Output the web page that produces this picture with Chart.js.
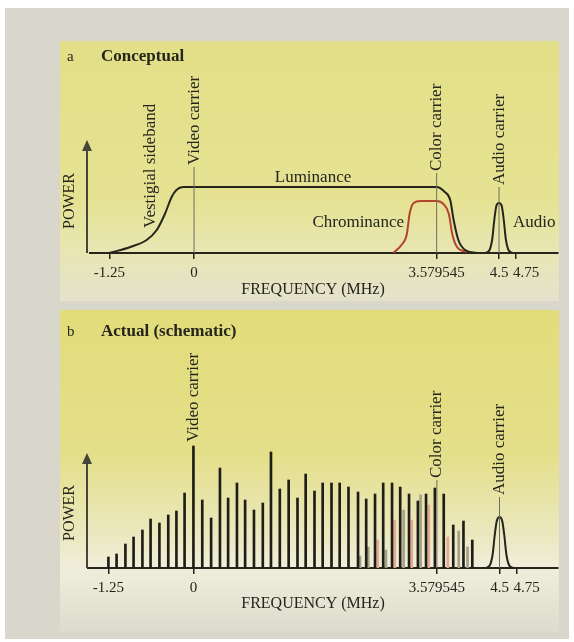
<!DOCTYPE html>
<html>
<head>
<meta charset="utf-8">
<script src="https://cdn.jsdelivr.net/npm/chart.js@4.4.1/dist/chart.umd.min.js"></script>
<style>
  html, body { margin: 0; padding: 0; background: #ffffff; }
  #page { position: relative; width: 574px; height: 642px; overflow: hidden; }
  #paper { position: absolute; left: 5px; top: 8px; width: 564px; height: 631px; background: #d9d7cb; }
  .panel { position: absolute; left: 60px; width: 499px; }
  #panelA { top: 41px; height: 260px;
    background: linear-gradient(to bottom, #e3df88 0%, #e5e292 60%, #e8e6b4 82%, #e4e2cc 100%); }
  #panelB { top: 310px; height: 322px;
    background: linear-gradient(to bottom, #e2dc7a 0%, #e4df8a 45%, #ebe8c0 70%, #f0eedb 80%, #e6e4d4 90%, #dddbcd 100%); }
  canvas { position: absolute; left: 0; top: 0; }
  #wrapA { position: absolute; left: 0; top: 0; width: 574px; height: 300px; }
  #wrapB { position: absolute; left: 0; top: 300px; width: 574px; height: 342px; }
</style>
</head>
<body>
<div id="page">
  <div id="paper"></div>
  <div class="panel" id="panelA"></div>
  <div class="panel" id="panelB"></div>
  <div id="wrapA"><canvas id="spectrumA" width="574" height="300"></canvas></div>
  <div id="wrapB"><canvas id="spectrumB" width="574" height="342"></canvas></div>
</div>
<script>
// x axis ticks (MHz)
const tickValues = [-1.25, 0, 3.579545, 4.5, 4.75];
const tickLabels = ["-1.25", "0", "3.579545", "4.5", "4.75"];

// carriers
const carrierFreqs = [0, 3.579545, 4.5];
const carrierNames = ["Video carrier", "Color carrier", "Audio carrier"];

// panel a: conceptual envelopes
const lumaFreqA = [-1.25, -0.94, -0.70, -0.55, -0.43, -0.33, -0.26, -0.16, 0, 3.58, 3.70, 3.78, 3.83, 3.90, 4.00, 4.17];
const lumaPowerA = [0, 6, 13, 23, 39, 56, 63, 66, 66, 66, 61, 53, 33, 13, 3, 0];
const chromaFreqA = [2.94, 3.06, 3.14, 3.18, 3.24, 3.34, 3.58, 3.68, 3.76, 3.81, 3.88, 4.03];
const chromaPowerA = [0, 8, 19, 39, 50, 52, 52, 49, 39, 19, 6, 1];
const audioFreq = [4.30, 4.36, 4.40, 4.43, 4.46, 4.50, 4.54, 4.57, 4.60, 4.64, 4.70];
const audioPowerA = [0, 3, 14, 33, 47, 50, 47, 33, 14, 3, 0];

// panel b: line harmonics
const lumaFreqB = [-1.25, -1.13, -1.00, -0.88, -0.75, -0.63, -0.50, -0.37, -0.25, -0.13, 0,
  0.13, 0.26, 0.39, 0.51, 0.64, 0.76, 0.89, 1.02, 1.14, 1.27, 1.40, 1.53, 1.65, 1.78, 1.90,
  2.03, 2.15, 2.28, 2.42, 2.54, 2.67, 2.79, 2.92, 3.04, 3.17, 3.30, 3.42, 3.55, 3.68, 3.82, 3.97, 4.10];
const lumaPowerB = [11, 14, 24, 31, 38, 49, 45, 53, 57, 75, 122,
  68, 50, 100, 70, 85, 68, 58, 65, 116, 79, 88, 70, 94, 77, 85,
  85, 85, 81, 76, 69, 74, 85, 85, 81, 74, 67, 74, 80, 74, 43, 47, 28];
const chromaGrayFreqB = [2.45, 2.57, 2.83, 3.09, 3.34, 3.90, 4.03];
const chromaGrayPowerB = [12, 21, 18, 58, 73, 37, 21];
const chromaPinkFreqB = [2.71, 2.96, 3.21, 3.46, 3.74];
const chromaPinkPowerB = [28, 48, 48, 63, 31];
const audioPowerB = [0, 3, 14, 33, 47, 51, 47, 33, 14, 3, 0];

const serif = '"Liberation Serif", "DejaVu Serif", serif';
const ink = "#25251d";

const pts = (xs, ys) => xs.map((x, i) => ({ x: x, y: ys[i] }));

function vText(ctx, text, x, y, font, align) {
  ctx.save();
  ctx.translate(x, y);
  ctx.rotate(-Math.PI / 2);
  ctx.font = font;
  ctx.fillStyle = ink;
  ctx.textAlign = align || "left";
  ctx.textBaseline = "middle";
  ctx.fillText(text, 0, 0);
  ctx.restore();
}

function hText(ctx, text, x, y, font, align) {
  ctx.save();
  ctx.font = font;
  ctx.fillStyle = ink;
  ctx.textAlign = align || "left";
  ctx.textBaseline = "alphabetic";
  ctx.fillText(text, x, y);
  ctx.restore();
}

function powerArrow(ctx, x, yBase, yTop) {
  ctx.save();
  ctx.strokeStyle = "#45453a";
  ctx.fillStyle = "#45453a";
  ctx.lineWidth = 2;
  ctx.beginPath();
  ctx.moveTo(x, yBase);
  ctx.lineTo(x, yTop + 8);
  ctx.stroke();
  ctx.beginPath();
  ctx.moveTo(x, yTop);
  ctx.lineTo(x - 5, yTop + 11);
  ctx.lineTo(x + 5, yTop + 11);
  ctx.closePath();
  ctx.fill();
  ctx.restore();
}

function carrierLine(ctx, x, yBase, yTop) {
  ctx.save();
  ctx.strokeStyle = "#6e6e60";
  ctx.lineWidth = 1;
  ctx.beginPath();
  ctx.moveTo(x, yBase);
  ctx.lineTo(x, yTop);
  ctx.stroke();
  ctx.restore();
}

// tick labels: "4.75" sits just right of its tick so it clears "4.5"
function tickText(chart) {
  const xs = chart.scales.x;
  const base = chart.chartArea.bottom;
  tickValues.forEach((v, i) => {
    const x = xs.getPixelForValue(v);
    const last = i === tickValues.length - 1;
    hText(chart.ctx, tickLabels[i], last ? x - 3 : x, base + 24, "15px " + serif, last ? "left" : "center");
  });
}

function xAxis(min, max) {
  return {
    type: "linear",
    min: min,
    max: max,
    offset: false,
    afterBuildTicks: s => { s.ticks = tickValues.map(v => ({ value: v })); },
    afterFit: s => { s.height = 40; },
    grid: { display: true, offset: false, drawOnChartArea: false, drawTicks: true, tickLength: 6, color: ink, lineWidth: 1.5 },
    border: { display: true, color: ink, width: 2 },
    ticks: { display: false, autoSkip: false }
  };
}

const commonOptions = {
  responsive: false,
  animation: false,
  events: [],
  plugins: { legend: { display: false }, tooltip: { enabled: false } }
};

// ---- panel a ----
const decorA = {
  id: "decorA",
  afterDraw: chart => {
    const ctx = chart.ctx;
    const xs = chart.scales.x;
    const base = chart.chartArea.bottom;
    const tops = [86, 80, 66];
    hText(ctx, "a", 67, 61, "15px " + serif);
    hText(ctx, "Conceptual", 101, 61, "bold 17px " + serif);
    powerArrow(ctx, 87, base, 140);
    vText(ctx, "POWER", 70, 201, "16px " + serif, "center");
    carrierFreqs.forEach((f, i) => {
      const x = xs.getPixelForValue(f);
      carrierLine(ctx, x, base, base - tops[i]);
      vText(ctx, carrierNames[i], x, base - tops[i] - 2, "17px " + serif);
    });
    vText(ctx, "Vestigial sideband", 151, 228, "17px " + serif);
    hText(ctx, "Luminance", 313, 182, "17px " + serif, "center");
    hText(ctx, "Chrominance", 404, 227, "17px " + serif, "right");
    hText(ctx, "Audio", 513, 227, "17px " + serif);
    tickText(chart);
    hText(ctx, "FREQUENCY (MHz)", 313, 294, "16px " + serif, "center");
  }
};

new Chart(document.getElementById("spectrumA"), {
  type: "line",
  data: {
    datasets: [
      {
        label: "Luminance",
        data: pts(lumaFreqA, lumaPowerA),
        borderColor: ink,
        borderWidth: 2,
        pointRadius: 0,
        cubicInterpolationMode: "monotone"
      },
      {
        label: "Chrominance",
        data: pts(chromaFreqA, chromaPowerA),
        borderColor: "#b3452d",
        borderWidth: 2,
        pointRadius: 0,
        cubicInterpolationMode: "monotone"
      },
      {
        label: "Audio",
        data: pts(audioFreq, audioPowerA),
        borderColor: ink,
        borderWidth: 2,
        pointRadius: 0,
        cubicInterpolationMode: "monotone"
      }
    ]
  },
  options: Object.assign({}, commonOptions, {
    layout: { padding: { left: 90, right: 16, top: 153, bottom: 7 } },
    scales: {
      x: xAxis(-1.535, 5.37),
      y: { display: false, min: 0, max: 100 }
    }
  }),
  plugins: [decorA]
});

// ---- panel b ----
const decorB = {
  id: "decorB",
  afterDraw: chart => {
    const ctx = chart.ctx;
    const xs = chart.scales.x;
    const base = chart.chartArea.bottom;
    hText(ctx, "b", 67, 36, "15px " + serif);
    hText(ctx, "Actual (schematic)", 101, 36, "bold 17px " + serif);
    powerArrow(ctx, 87, base, 153);
    vText(ctx, "POWER", 70, 213, "16px " + serif, "center");
    const tops = [124, 88, 71];
    carrierFreqs.forEach((f, i) => {
      const x = xs.getPixelForValue(f);
      if (i > 0) carrierLine(ctx, x, base, base - tops[i]);
      vText(ctx, carrierNames[i], x, base - tops[i] - 2, "17px " + serif);
    });
    tickText(chart);
    hText(ctx, "FREQUENCY (MHz)", 313, 308, "16px " + serif, "center");
  }
};

new Chart(document.getElementById("spectrumB"), {
  type: "bar",
  data: {
    datasets: [
      {
        label: "Luminance harmonics",
        data: pts(lumaFreqB, lumaPowerB),
        backgroundColor: "#1e1e17",
        barThickness: 2,
        order: 0
      },
      {
        label: "Chrominance harmonics",
        data: pts(chromaGrayFreqB, chromaGrayPowerB),
        backgroundColor: "#a3a186",
        barThickness: 2,
        order: 1
      },
      {
        label: "Chrominance harmonics (pink)",
        data: pts(chromaPinkFreqB, chromaPinkPowerB),
        backgroundColor: "#e6a894",
        barThickness: 2,
        order: 1
      },
      {
        type: "line",
        label: "Audio",
        data: pts(audioFreq, audioPowerB),
        borderColor: ink,
        borderWidth: 2,
        pointRadius: 0,
        cubicInterpolationMode: "monotone",
        order: 0
      }
    ]
  },
  options: Object.assign({}, commonOptions, {
    grouped: false,
    layout: { padding: { left: 88, right: 16, top: 138, bottom: 34 } },
    scales: {
      x: xAxis(-1.55, 5.36),
      y: { display: false, min: 0, max: 130 }
    }
  }),
  plugins: [decorB]
});
</script>
</body>
</html>
